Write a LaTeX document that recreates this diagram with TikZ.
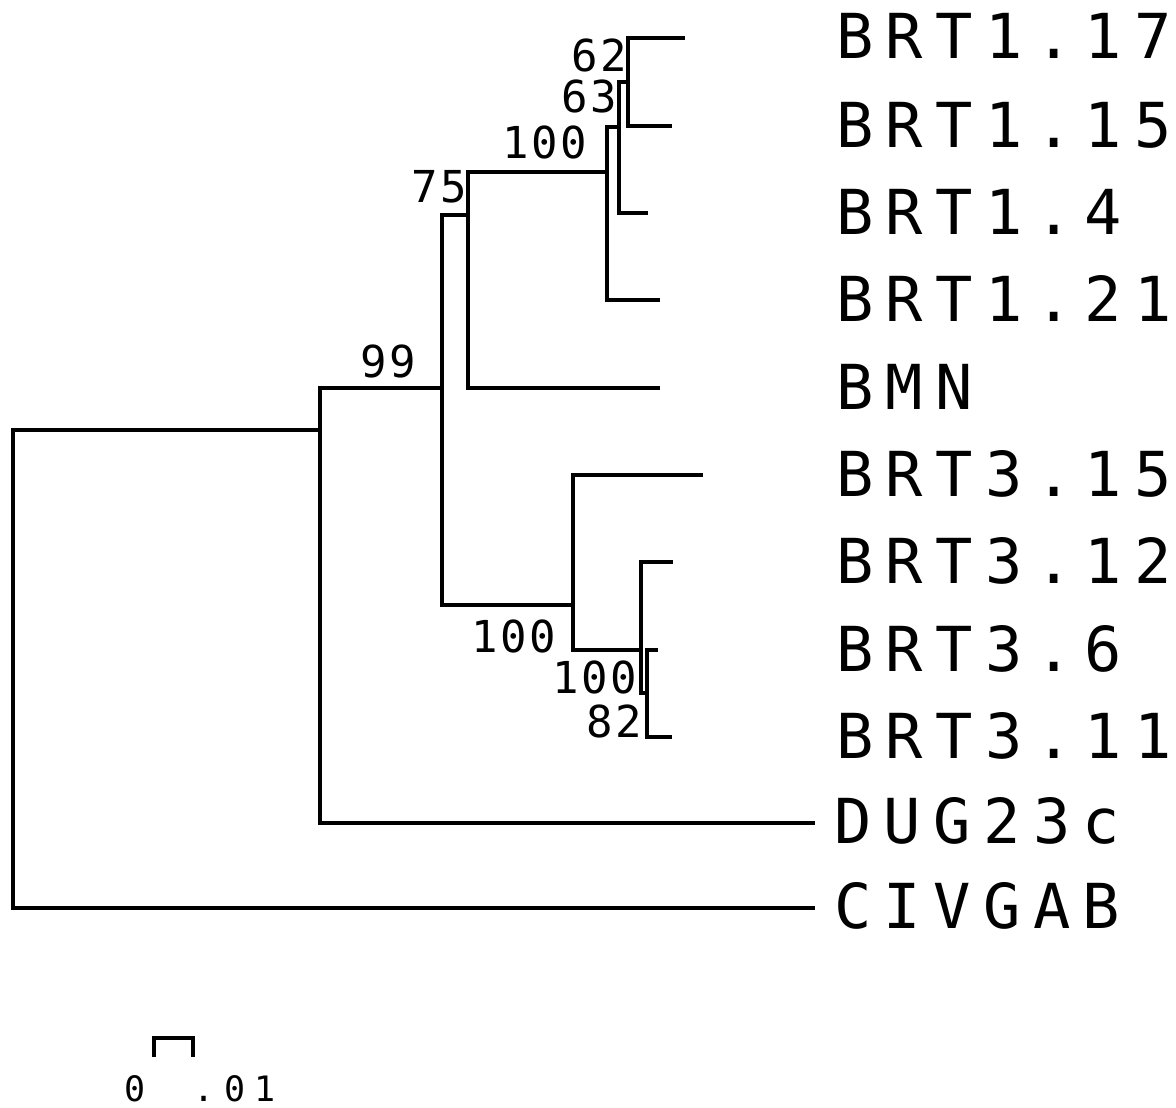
\documentclass[tikz,border=0pt]{standalone}
\usepackage{fontspec}
\newfontfamily\leaffont[LetterSpace=20]{DejaVu Sans Mono}
\newfontfamily\bootfont[LetterSpace=6]{DejaVu Sans Mono}
\newfontfamily\scalefont[LetterSpace=28]{DejaVu Sans Mono}
\tikzset{
  branch/.style={line width=4pt, line join=miter, line cap=butt},
  leaf/.style={font=\leaffont\fontsize{62}{62}\selectfont, inner sep=0pt, anchor=base west},
  boot/.style={font=\bootfont\fontsize{44}{44}\selectfont, inner sep=0pt, anchor=base east},
  scaletext/.style={font=\scalefont\fontsize{35}{35}\selectfont, inner sep=0pt, anchor=base west},
}
\begin{document}
\begin{tikzpicture}[x=1pt,y=-1pt]
\useasboundingbox (0,0) rectangle (1176,1108);
% leaf tips
\coordinate (t117) at (685,38);
\coordinate (t115) at (672,126);
\coordinate (t14)  at (648,213);
\coordinate (t121) at (660,300);
\coordinate (tBMN) at (660,388);
\coordinate (t315) at (703,475);
\coordinate (t312) at (673,562);
\coordinate (t36)  at (658,650);
\coordinate (t311) at (672,737);
\coordinate (tDUG) at (815,823);
\coordinate (tCIV) at (815,908);
% internal nodes (x of bar, y where joined to parent)
\coordinate (n62)   at (628,82);
\coordinate (n63)   at (619,127);
\coordinate (n100a) at (607,172);
\coordinate (n75)   at (468,215);
\coordinate (n99)   at (442,388);
\coordinate (n100b) at (573,605);
\coordinate (n100c) at (641,650);
\coordinate (n82)   at (647,693);
\coordinate (nA)    at (320,430);
\coordinate (nR)    at (13,430);
% branches
\draw[branch] (t117) -| (n62) |- (t115);
\draw[branch] (n62) -| (n63) |- (t14);
\draw[branch] (n63) -| (n100a) |- (t121);
\draw[branch] (n100a) -| (n75) |- (tBMN);
\draw[branch] (n75) -| (n99) |- (n100b);
\draw[branch] (t315) -| (n100b) |- (n100c);
\draw[branch] (t312) -| (n100c) |- (n82);
\draw[branch] (t36) -| (n82) |- (t311);
\draw[branch] (n99) -| (nA) |- (tDUG);
\draw[branch] (nA) -| (nR) |- (tCIV);
% leaf labels
\node[leaf] (L117) at (836,59)  {BRT1.17};
\node[leaf] (L115) at (836,147) {BRT1.15};
\node[leaf] (L14)  at (836,234) {BRT1.4};
\node[leaf] (L121) at (836,321) {BRT1.21};
\node[leaf] (LBMN) at (836,409) {BMN};
\node[leaf] (L315) at (836,496) {BRT3.15};
\node[leaf] (L312) at (836,583) {BRT3.12};
\node[leaf] (L36)  at (836,671) {BRT3.6};
\node[leaf] (L311) at (836,758) {BRT3.11};
\node[leaf] (LDUG) at (834,843) {DUG23c};
\node[leaf] (LCIV) at (834,928) {CIVGAB};
% bootstrap values
\node[boot] (b62)   at (627,72)  {62};
\node[boot] (b63)   at (617,113) {63};
\node[boot] (b100a) at (587,158) {100};
\node[boot] (b75)   at (467,202) {75};
\node[boot] (b99)   at (416,377) {99};
\node[boot] (b100b) at (556,652) {100};
\node[boot] (b100c) at (637,693) {100};
\node[boot] (b82)   at (642,737) {82};
% scale bar
\coordinate (sbL)  at (154,1057);
\coordinate (sbTL) at (154,1038);
\coordinate (sbR)  at (193,1057);
\draw[branch, line width=3.5pt] (sbL) -- (sbTL) -| (sbR);
\node[scaletext] (s0)  at (124,1101) {0};
\node[scaletext] (s01) at (193,1101) {.01};
\end{tikzpicture}
\end{document}
